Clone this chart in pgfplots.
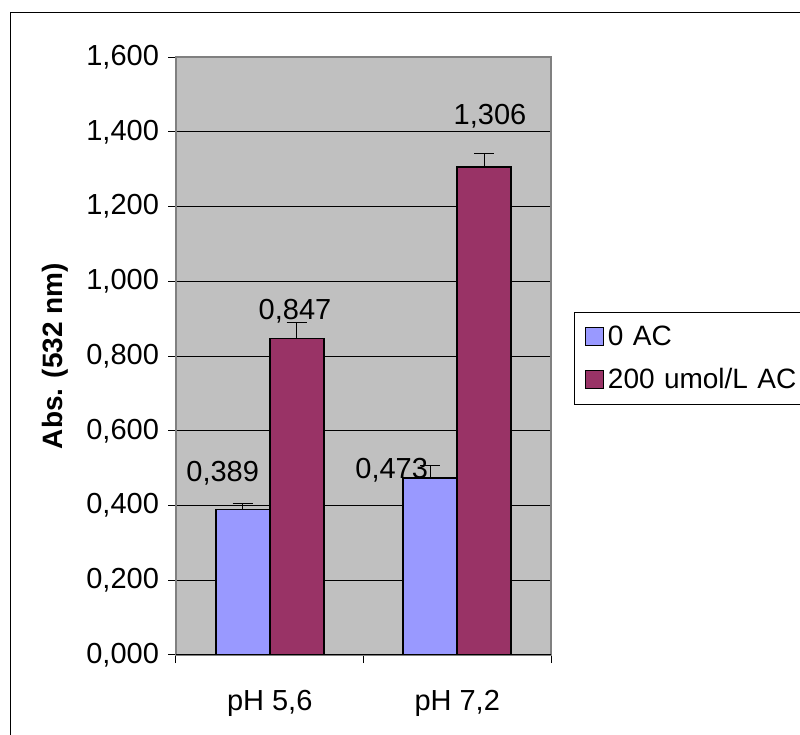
\documentclass[border=0pt]{standalone}
\usepackage{fontspec}
\setmainfont{Liberation Sans}
\usepackage{pgfplots}
\usepackage{pgfplotstable}
\pgfplotsset{compat=1.18}
\definecolor{cblue}{HTML}{9999FF}
\definecolor{cred}{HTML}{993366}
\definecolor{cgray}{HTML}{C0C0C0}
\definecolor{cframe}{HTML}{808080}
\pgfplotsset{sqlegend/.style={legend image code/.code={\draw[##1,draw=black,line width=0.5pt] (0pt,-4.4pt) rectangle (8.75pt,4.4pt);}}}

% bar data (x = category position 0/1, shifted by half a bar width)
\pgfplotstableread{
x y err
-0.144 0.389 0.017
0.856 0.473 0.035
}\tblue
\pgfplotstableread{
x y err
0.144 0.847 0.043
1.144 1.306 0.036
}\tred
% data label positions
\pgfplotstableread{
lx ly lab
-0.2509 0.4861 0,389
0.6504 0.4950 0,473
0.1347 0.9192 0,847
1.1747 1.4402 1,306
}\tlab

\newcommand{\fs}{\fontsize{14}{16}\selectfont}
\newcommand{\fst}{\fontsize{14.5}{16.5}\selectfont}

\begin{document}
\begin{tikzpicture}
\useasboundingbox (0,0) rectangle (400pt,367.5pt);
\draw[black, line width=0.5pt] (5pt,-20pt) rectangle (420pt,361pt);
\begin{axis}[
  at={(88pt,40pt)}, anchor=south west,
  scale only axis, width=187.5pt, height=299pt,
  xmin=-0.5, xmax=1.5, ymin=0, ymax=1.6,
  axis background/.style={fill=cgray},
  axis line style={draw=cframe, line width=1pt},
  ytick={0,0.2,0.4,0.6,0.8,1.0,1.2,1.4,1.6},
  ymajorgrids, grid style={black, line width=0.5pt},
  xtick={-0.5,0.5,1.5}, xticklabels={},
  extra x ticks={0,1}, extra x tick labels={{pH 5,6},{pH 7,2}},
  extra x tick style={major tick length=0pt, xticklabel style={yshift=-14pt}},
  tick align=outside, major tick length=4pt,
  tick style={black, line width=0.5pt},
  tick pos=left,
  scaled y ticks=false,
  y tick label style={xshift=-1pt, /pgf/number format/.cd, fixed, fixed zerofill, precision=3, use comma, 1000 sep={}},
  /pgf/number format/assume math mode=true,
  tick label style={font=\fst},
  ylabel={Abs. (532 nm)},
  every axis y label/.style={at={(axis description cs:-0.3227,0.5)}, rotate=90, anchor=center, font=\fs\bfseries},
  legend style={at={(axis description cs:1.0613,0.5736)}, anchor=north west, draw=black, line width=0.5pt, fill=white,
     font=\fs, inner xsep=5.5pt, inner ysep=4.5pt, row sep=6pt, legend cell align=left,
     text width=110pt},
]
\addplot[ybar, bar width=27pt, bar shift=0pt, sqlegend, fill=cblue, draw=black, line width=0.8pt,
  error bars/.cd, y dir=plus, y explicit,
  error bar style={black, line width=0.6pt},
  error mark options={black, rotate=90, mark size=5pt, line width=0.6pt}]
  table[x=x, y=y, y error=err] {\tblue};
\addlegendentry{0 AC}
\addplot[ybar, bar width=27pt, bar shift=0pt, sqlegend, fill=cred, draw=black, line width=0.8pt,
  error bars/.cd, y dir=plus, y explicit,
  error bar style={black, line width=0.6pt},
  error mark options={black, rotate=90, mark size=5pt, line width=0.6pt}]
  table[x=x, y=y, y error=err] {\tred};
\addlegendentry{200 umol/L AC}
\addplot[forget plot, only marks, mark=none, nodes near coords, point meta=explicit symbolic,
  nodes near coords style={anchor=center, font=\fst, text=black}]
  table[x=lx, y=ly, meta=lab] {\tlab};
\draw[black, line width=0.75pt] (rel axis cs:0,0) -- (rel axis cs:1,0);
\end{axis}
\end{tikzpicture}
\end{document}
